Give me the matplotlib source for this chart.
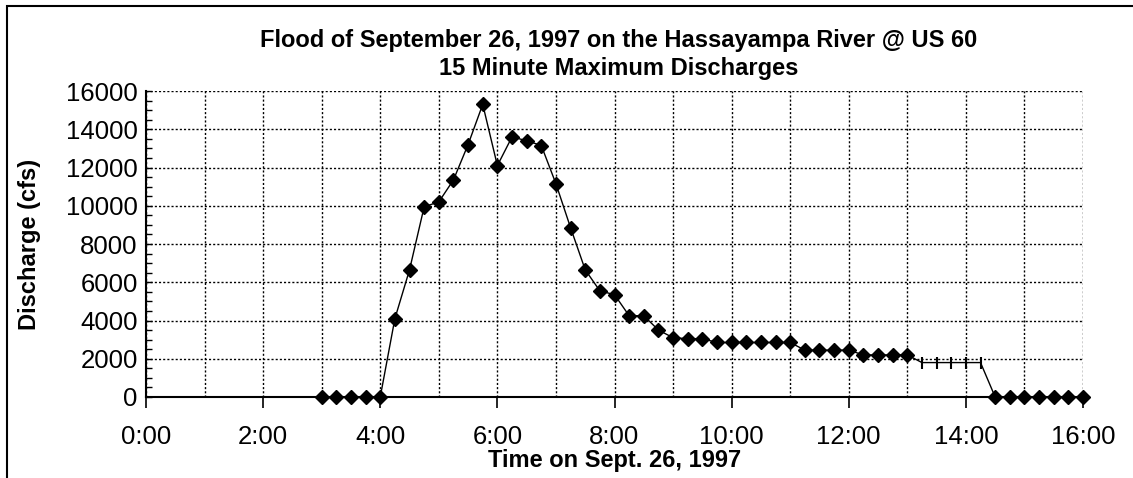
import matplotlib
matplotlib.use("Agg")
import matplotlib.pyplot as plt
from matplotlib.ticker import MultipleLocator
from matplotlib.patches import Rectangle

plt.rcParams['font.family'] = ['Liberation Sans', 'DejaVu Sans']

# 15분 간격 측정 시각과 유량 (cfs)
times = ["3:00", "3:15", "3:30", "3:45", "4:00", "4:15", "4:30", "4:45",
         "5:00", "5:15", "5:30", "5:45", "6:00", "6:15", "6:30", "6:45",
         "7:00", "7:15", "7:30", "7:45", "8:00", "8:15", "8:30", "8:45",
         "9:00", "9:15", "9:30", "9:45", "10:00", "10:15", "10:30", "10:45",
         "11:00", "11:15", "11:30", "11:45", "12:00", "12:15", "12:30", "12:45",
         "13:00", "13:15", "13:30", "13:45", "14:00", "14:15", "14:30", "14:45",
         "15:00", "15:15", "15:30", "15:45", "16:00"]
discharge = [0, 0, 0, 0, 0, 4100, 6650, 9950,
             10200, 11350, 13200, 15300, 12100, 13600, 13400, 13150,
             11150, 8850, 6650, 5550, 5350, 4250, 4250, 3500,
             3100, 3050, 3050, 2850, 2850, 2850, 2850, 2850,
             2850, 2450, 2450, 2450, 2450, 2200, 2200, 2200,
             2200, 1800, 1800, 1800, 1800, 1800, 0, 0,
             0, 0, 0, 0, 0]
# 추정값 구간 (| 표시)
estimated = ["13:15", "13:30", "13:45", "14:00", "14:15"]

xtick_labels = ["0:00", "2:00", "4:00", "6:00", "8:00", "10:00", "12:00", "14:00", "16:00"]
yticks = [0, 2000, 4000, 6000, 8000, 10000, 12000, 14000, 16000]


def to_hours(t):
    h, m = t.split(":")
    return int(h) + int(m) / 60


x = [to_hours(t) for t in times]
x_meas = [to_hours(t) for t in times if t not in estimated]
y_meas = [q for t, q in zip(times, discharge) if t not in estimated]
x_est = [to_hours(t) for t in times if t in estimated]
y_est = [q for t, q in zip(times, discharge) if t in estimated]

fig = plt.figure(figsize=(11.33, 4.78), dpi=100)
ax = fig.add_axes([146 / 1133, 1 - 397 / 478, (1083 - 146) / 1133, (397 - 91) / 478])

# 바깥 테두리 (오른쪽/아래는 잘려 있음)
fig.patches.append(Rectangle((7 / 1133, -0.1), 1.2, 1 - 6 / 478 + 0.1, transform=fig.transFigure,
                             fill=False, edgecolor="black", linewidth=1.5))

ax.plot(x, discharge, color="black", linewidth=1.0, zorder=3)
ax.plot(x_meas, y_meas, linestyle="none", marker="D", markersize=7.5,
        color="black", zorder=4, clip_on=False)
ax.plot(x_est, y_est, linestyle="none", marker="|", markersize=8,
        markeredgewidth=1.5, color="black", zorder=4)

ax.set_xlim(0, 16)
ax.set_ylim(0, 16000)
ax.set_xticks([to_hours(t) for t in xtick_labels])
ax.set_xticklabels(xtick_labels)
ax.xaxis.set_minor_locator(MultipleLocator(1))
ax.set_yticks(yticks)
ax.set_yticklabels([str(v) for v in yticks])
ax.yaxis.set_minor_locator(MultipleLocator(500))

ax.grid(which="both", axis="x", color="black", linestyle=(0, (1.5, 1.5)), linewidth=1.0)
ax.grid(which="major", axis="y", color="black", linestyle=(0, (1.5, 1.5)), linewidth=1.0)

ax.tick_params(axis="x", which="major", direction="out", length=8, width=1.2,
               labelsize=18.5, pad=12)
ax.tick_params(axis="x", which="minor", length=0)
ax.tick_params(axis="y", which="both", direction="in", length=4, width=1.0,
               labelsize=18.5, pad=6)

for side in ["top", "right"]:
    ax.spines[side].set_visible(False)
ax.spines["left"].set_linewidth(1.5)
ax.spines["bottom"].set_linewidth(1.5)
ax.set_axisbelow(True)

ax.set_xlabel("Time on Sept. 26, 1997", fontsize=17, fontweight="bold", labelpad=0)
ax.set_ylabel("Discharge (cfs)", fontsize=17, fontweight="bold", labelpad=18)
fig.text(0.546, 1 - 40 / 478, "Flood of September 26, 1997 on the Hassayampa River @ US 60",
         ha="center", va="center", fontsize=17, fontweight="bold")
fig.text(0.546, 1 - 69 / 478, "15 Minute Maximum Discharges",
         ha="center", va="center", fontsize=17, fontweight="bold")

plt.savefig("out.png", dpi=100)
